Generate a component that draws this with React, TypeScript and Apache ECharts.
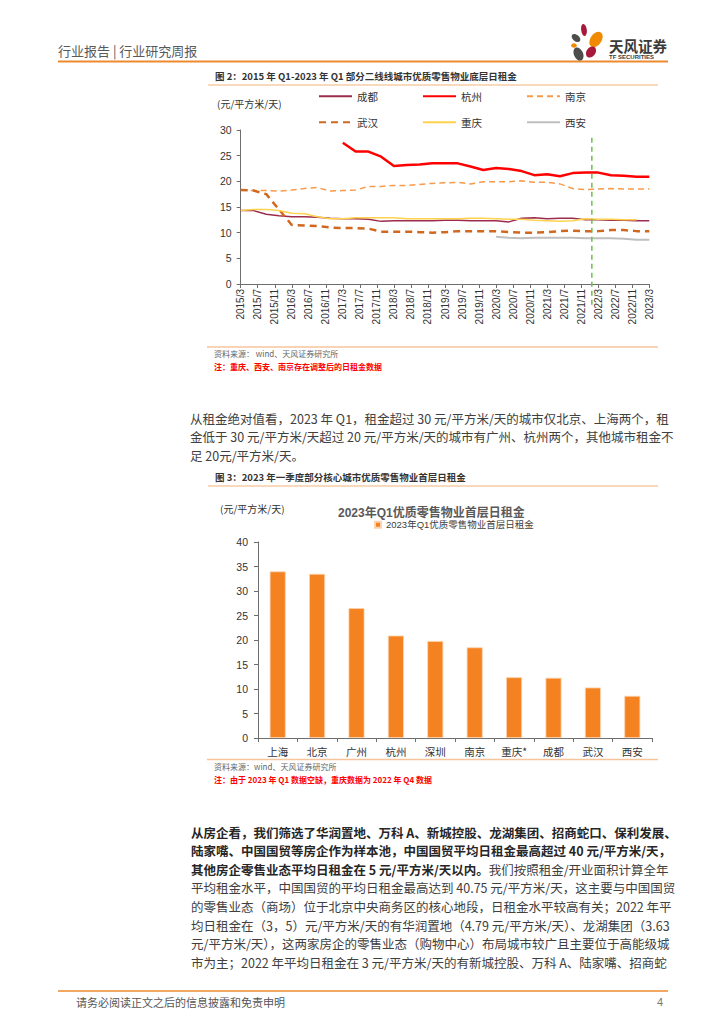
import React, { useEffect, useRef } from "react";
import * as echarts from "echarts";

const FONT = "'Liberation Sans', 'Noto Sans CJK SC', sans-serif";
const CJK = "'Noto Sans CJK SC', 'Liberation Sans', sans-serif";

// ---------- Figure 2 data (quarterly, 2015Q1 - 2023Q1) ----------
const quarterLabels = [
  "2015Q1", "2015Q2", "2015Q3", "2015Q4", "2016Q1", "2016Q2", "2016Q3", "2016Q4",
  "2017Q1", "2017Q2", "2017Q3", "2017Q4", "2018Q1", "2018Q2", "2018Q3", "2018Q4",
  "2019Q1", "2019Q2", "2019Q3", "2019Q4", "2020Q1", "2020Q2", "2020Q3", "2020Q4",
  "2021Q1", "2021Q2", "2021Q3", "2021Q4", "2022Q1", "2022Q2", "2022Q3", "2022Q4",
  "2023Q1",
];
const monthTickLabels = [
  "2015/3", "2015/7", "2015/11", "2016/3", "2016/7", "2016/11", "2017/3", "2017/7",
  "2017/11", "2018/3", "2018/7", "2018/11", "2019/3", "2019/7", "2019/11", "2020/3",
  "2020/7", "2020/11", "2021/3", "2021/7", "2021/11", "2022/3", "2022/7", "2022/11",
  "2023/3",
];
const chengdu = [
  14.3, 14.3, 13.6, 13.3, 13.1, 13.1, 13.0, 12.8, 12.7, 12.7,
  12.6, 12.2, 12.3, 12.3, 12.3, 12.3, 12.4, 12.4, 12.3, 12.3,
  12.3, 12.1, 12.8, 12.9, 12.7, 12.8, 12.8, 12.5, 12.5, 12.4,
  12.4, 12.3, 12.3,
];
const hangzhou = [
  null, null, null, null, null, null, null, null,
  27.5, 25.8, 25.8, 24.8, 23.0, 23.2, 23.3, 23.5, 23.5, 23.5,
  22.9, 22.2, 22.6, 22.4, 22.0, 21.2, 21.4, 21.0, 21.6, 21.7,
  21.7, 21.2, 21.1, 20.9, 20.9,
];
const nanjing = [
  18.3, 18.2, 18.2, 18.1, 18.3, 18.6, 18.8, 18.1, 18.2, 18.3,
  19.0, 19.0, 19.2, 19.2, 19.4, 19.6, 19.7, 19.8, 19.5, 19.9,
  19.9, 19.9, 20.1, 19.8, 19.8, 19.5, 18.6, 18.4, 18.5, 18.6,
  18.5, 18.5, 18.5,
];
const wuhan = [
  18.3, 18.2, 17.5, 14.5, 11.5, 11.4, 11.3, 11.0, 10.9, 10.9,
  10.8, 10.2, 10.2, 10.2, 10.1, 10.0, 10.1, 10.3, 10.3, 10.3,
  10.3, 10.1, 10.0, 10.0, 10.1, 10.3, 10.4, 10.3, 10.3, 10.5,
  10.5, 10.3, 10.3,
];
const chongqing = [
  14.3, 14.5, 14.5, 14.3, 13.8, 13.7, 13.1, 12.7, 12.7, 12.9,
  12.9, 12.9, 12.9, 12.7, 12.7, 12.7, 12.7, 12.7, 12.8, 12.8,
  12.7, 12.6, 12.6, 12.4, 12.3, 12.2, 12.3, 12.7, 12.6, 12.6,
  12.5, 12.5, null,
];
const xian = [
  null, null, null, null, null, null, null, null, null, null,
  null, null, null, null, null, null, null, null, null, null,
  9.2, 9.0, 8.9, 9.0, 9.0, 9.0, 9.0, 8.9, 8.9, 8.9,
  8.8, 8.6, 8.6,
];
const markerMonth = 82.5; // green dashed marker (months after 2015/3)

// ---------- Figure 3 data ----------
const barCities = ["上海", "北京", "广州", "杭州", "深圳", "南京", "重庆*", "成都", "武汉", "西安"];
const barValues = [34.0, 33.5, 26.5, 20.9, 19.8, 18.5, 12.4, 12.3, 10.3, 8.6];
const barSeriesName = "2023年Q1优质零售物业首层日租金";

// ---------- Page text ----------
const para1 = [
  "从租金绝对值看，2023 年 Q1，租金超过 30 元/平方米/天的城市仅北京、上海两个，租",
  "金低于 30 元/平方米/天超过 20 元/平方米/天的城市有广州、杭州两个，其他城市租金不",
  "足 20元/平方米/天。",
];
const para2 = [
  "{b|从房企看，我们筛选了华润置地、万科 A、新城控股、龙湖集团、招商蛇口、保利发展、}",
  "{b|陆家嘴、中国国贸等房企作为样本池，中国国贸平均日租金最高超过 40 元/平方米/天，}",
  "{b|其他房企零售业态平均日租金在 5 元/平方米/天以内。}{n|我们按照租金/开业面积计算全年}",
  "{n|平均租金水平，中国国贸的平均日租金最高达到 40.75 元/平方米/天，这主要与中国国贸}",
  "{n|的零售业态（商场）位于北京中央商务区的核心地段，日租金水平较高有关；2022 年平}",
  "{n|均日租金在（3，5）元/平方米/天的有华润置地（4.79 元/平方米/天）、龙湖集团（3.63}",
  "{n|元/平方米/天），这两家房企的零售业态（购物中心）布局城市较广且主要位于高能级城}",
  "{n|市为主；2022 年平均日租金在 3 元/平方米/天的有新城控股、万科 A、陆家嘴、招商蛇}",
];

function txt(x: number, y: number, text: string, size: number, fill: string, weight: any = "normal", align: any = "left", family = CJK) {
  return {
    type: "text",
    x,
    y,
    silent: true,
    style: { text, fontSize: size, fill, fontWeight: weight, fontFamily: family, align, verticalAlign: "middle" },
  };
}
function hline(x1: number, x2: number, y: number, stroke: string, lw: number) {
  return { type: "line", silent: true, shape: { x1, y1: y, x2, y2: y }, style: { stroke, lineWidth: lw } };
}
function petal(cx: number, cy: number, rx: number, ry: number, deg: number, fill: string) {
  return { type: "ellipse", x: cx, y: cy, rotation: (deg * Math.PI) / 180, shape: { cx: 0, cy: 0, rx, ry }, style: { fill }, silent: true };
}

export default function App() {
  const ref = useRef<HTMLDivElement>(null);

  useEffect(() => {
    if (!ref.current) return;
    const chart = echarts.init(ref.current, null, { renderer: "svg" });

    const toPairs = (arr: (number | null)[]) =>
      arr.map((v, i) => (v == null ? null : [i * 3, v])).filter((p) => p !== null);

    const lineDefs = [
      { name: "成都", data: chengdu, color: "#9C2C4E", width: 1.5, type: "solid" as any },
      { name: "杭州", data: hangzhou, color: "#FF0000", width: 2.5, type: "solid" as any },
      { name: "南京", data: nanjing, color: "#F79A4B", width: 1.5, type: [6, 4] as any },
      { name: "武汉", data: wuhan, color: "#D0691F", width: 2.5, type: [7, 5] as any },
      { name: "重庆", data: chongqing, color: "#FFD24D", width: 1.5, type: "solid" as any },
      { name: "西安", data: xian, color: "#BFBFBF", width: 2, type: "solid" as any },
    ];

    const lineSeries = lineDefs.map((d) => ({
      type: "line",
      name: d.name,
      xAxisIndex: 0,
      yAxisIndex: 0,
      data: toPairs(d.data),
      symbol: "none",
      showSymbol: false,
      lineStyle: { color: d.color, width: d.width, type: d.type },
      itemStyle: { color: d.color },
      z: d.name === "杭州" ? 5 : 3,
    }));

    const axisColor = "#6e6e6e";
    const labelColor = "#333333";

    const baseGraphic: any[] = [
      // header
      txt(58, 50, "行业报告 | 行业研究周报", 13, "#595959"),
      hline(58, 668, 61.5, "#EE8A2E", 2),
      petal(584, 30, 2.8, 6, 8, "#A6193B"),
      petal(576, 38, 3.2, 5, 50, "#4D4D4D"),
      petal(596, 39.5, 5.5, 8.5, -35, "#F08A00"),
      petal(574, 45.5, 2.8, 2.3, 0, "#F08A00"),
      petal(578.5, 54, 4.5, 7, 25, "#4D4D4D"),
      petal(591, 52, 4.5, 6, -35, "#A6193B"),
      txt(609, 45, "天风证券", 14.5, "#3A3A3A", "bold"),
      txt(609, 56.5, "TF SECURITIES", 6, "#3A3A3A", "bold", "left", FONT),
      // figure 2 captions
      txt(215, 76, "图 2：2015 年 Q1-2023 年 Q1 部分二线线城市优质零售物业底层日租金", 9.5, "#333333", "bold"),
      hline(208, 658, 85, "#F7CDA6", 1.5),
      txt(217, 103, "(元/平方米/天)", 10, "#333333"),
      hline(207, 658, 347, "#F7C49C", 1.5),
      txt(214, 353.5, "资料来源： wind、天风证券研究所", 8, "#666666"),
      txt(214, 366.5, "注：重庆、西安、南京存在调整后的日租金数据", 8, "#FF0000", "bold"),
      // paragraph 1
      ...para1.map((s, i) => txt(190, 418 + i * 18.7, s, 12.5, "#404040")),
      // figure 3 captions
      txt(215, 477, "图 3：2023 年一季度部分核心城市优质零售物业首层日租金", 9.5, "#333333", "bold"),
      hline(208, 658, 486, "#F7CDA6", 1.5),
      txt(220, 508, "(元/平方米/天)", 10, "#333333"),
      hline(207, 658, 759.5, "#F7C49C", 1.5),
      txt(214, 766.5, "资料来源：wind、天风证券研究所", 8, "#666666"),
      txt(214, 779.5, "注：由于 2023 年 Q1 数据空缺，重庆数据为 2022 年 Q4 数据", 8, "#FF0000", "bold"),
      // paragraph 2
      ...para2.map((s, i) => ({
        type: "text",
        x: 191,
        y: 832 + i * 18.6,
        silent: true,
        style: {
          text: s,
          fontFamily: CJK,
          verticalAlign: "middle",
          rich: {
            b: { fontSize: 12.5, fontWeight: "bold", fill: "#262626", fontFamily: CJK },
            n: { fontSize: 12.5, fill: "#404040", fontFamily: CJK },
          },
        },
      })),
      // footer
      hline(58, 668, 991, "#EE8A2E", 1.5),
      txt(76, 1002, "请务必阅读正文之后的信息披露和免责申明", 11, "#555555"),
      txt(663, 1002, "4", 11, "#777777", "normal", "right", FONT),
    ];

    const lineLegendBase = {
      left: 318,
      padding: 0,
      itemWidth: 33,
      itemHeight: 10,
      itemGap: 44,
      itemStyle: { opacity: 0, color: "rgba(0,0,0,0)", borderWidth: 0 },
      textStyle: { fontSize: 10.5, color: labelColor, fontFamily: CJK },
    };

    const buildOption = (extraGraphic: any[]) => ({
      animation: false,
      textStyle: { fontFamily: FONT },
      title: {
        text: barSeriesName,
        left: 338,
        top: 507,
        padding: 0,
        textStyle: { fontSize: 12, fontWeight: "bold", color: "#595959", fontFamily: FONT },
      },
      legend: [
        { ...lineLegendBase, data: ["成都", "杭州", "南京"], top: 91 },
        { ...lineLegendBase, data: ["武汉", "重庆", "西安"], top: 117 },
        {
          data: [barSeriesName],
          left: 374,
          top: 520,
          padding: 0,
          icon: "rect",
          itemWidth: 6,
          itemHeight: 6,
          textStyle: { fontSize: 9.5, color: "#404040", fontFamily: FONT },
        },
      ],
      grid: [
        { left: 240.7, top: 130, width: 408.6, height: 154 },
        { left: 258, top: 542, width: 394, height: 196 },
      ],
      xAxis: [
        {
          type: "value",
          gridIndex: 0,
          min: 0,
          max: 96,
          interval: 4,
          axisLine: { show: true, onZero: false, lineStyle: { color: axisColor } },
          axisTick: { show: true, length: 4, lineStyle: { color: axisColor } },
          splitLine: { show: false },
          axisLabel: {
            rotate: 90,
            fontSize: 10,
            color: labelColor,
            margin: 5,
            showMinLabel: true,
            showMaxLabel: true,
            fontFamily: FONT,
            formatter: (v: number) => monthTickLabels[Math.round(v / 4)] ?? "",
          },
        },
        {
          type: "category",
          gridIndex: 1,
          data: barCities,
          axisLine: { show: true, lineStyle: { color: axisColor } },
          axisTick: { show: true, length: 4, alignWithLabel: false, lineStyle: { color: axisColor } },
          axisLabel: { fontSize: 10.5, color: labelColor, margin: 8, fontFamily: CJK },
        },
      ],
      yAxis: [
        {
          type: "value",
          gridIndex: 0,
          min: 0,
          max: 30,
          interval: 5,
          axisLine: { show: true, lineStyle: { color: axisColor } },
          axisTick: { show: true, length: 4, lineStyle: { color: axisColor } },
          splitLine: { show: false },
          axisLabel: { fontSize: 10.5, color: labelColor, margin: 9, fontFamily: FONT },
        },
        {
          type: "value",
          gridIndex: 1,
          min: 0,
          max: 40,
          interval: 5,
          axisLine: { show: true, lineStyle: { color: axisColor } },
          axisTick: { show: true, length: 4, lineStyle: { color: axisColor } },
          splitLine: { show: false },
          axisLabel: { fontSize: 10.5, color: labelColor, margin: 10, fontFamily: FONT },
        },
      ],
      series: [
        ...lineSeries,
        {
          type: "bar",
          name: barSeriesName,
          xAxisIndex: 1,
          yAxisIndex: 1,
          data: barValues,
          barWidth: 16,
          itemStyle: { color: "#F58220", borderColor: "#FAD3B0", borderWidth: 0.8 },
        },
      ],
      graphic: [...baseGraphic, ...extraGraphic],
    });

    chart.setOption(buildOption([]));
    const top = chart.convertToPixel({ xAxisIndex: 0, yAxisIndex: 0 } as any, [markerMonth, 28.5]) as number[];
    const bottom = chart.convertToPixel({ xAxisIndex: 0, yAxisIndex: 0 } as any, [markerMonth, 0]) as number[];
    const marker = {
      type: "line",
      silent: true,
      z: 10,
      shape: { x1: top[0], y1: top[1], x2: bottom[0], y2: bottom[1] + 21 },
      style: { stroke: "#6CBF47", lineWidth: 1.5, lineDash: [5, 4] },
    };
    chart.setOption(buildOption([marker]), true);

    return () => chart.dispose();
  }, []);

  return <div ref={ref} style={{ position: "absolute", left: 0, top: 0, width: 724, height: 1024, background: "#fff" }} />;
}
